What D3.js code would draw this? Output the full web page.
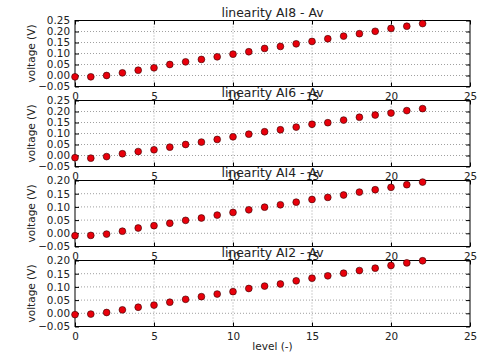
<!DOCTYPE html>
<html>
<head>
<meta charset="utf-8">
<script src="https://cdn.jsdelivr.net/npm/d3@7"></script>
<style>
body { margin: 0; background: #fff; }
text { font-family: "DejaVu Sans", sans-serif; fill: #222; }
</style>
</head>
<body>
<script>
var w = 480;
var h = 359;

// data
var levels = [0,1,2,3,4,5,6,7,8,9,10,11,12,13,14,15,16,17,18,19,20,21,22];
var titles = ["linearity AI8 - Av", "linearity AI6 - Av", "linearity AI4 - Av", "linearity AI2 - Av"];
var ai8 = [-0.006,-0.006,0.0,0.012,0.024,0.035,0.05,0.062,0.073,0.085,0.097,0.108,0.123,0.132,0.144,0.155,0.167,0.179,0.19,0.201,0.214,0.224,0.236];
var ai6 = [-0.010,-0.012,-0.005,0.008,0.018,0.026,0.038,0.05,0.061,0.073,0.085,0.097,0.108,0.117,0.129,0.142,0.149,0.161,0.174,0.184,0.193,0.204,0.213];
var ai4 = [-0.009,-0.008,-0.003,0.008,0.02,0.029,0.038,0.049,0.058,0.069,0.079,0.089,0.099,0.108,0.118,0.128,0.136,0.145,0.156,0.165,0.174,0.184,0.194];
var ai2 = [-0.005,-0.003,0.003,0.013,0.023,0.031,0.042,0.053,0.063,0.073,0.082,0.094,0.103,0.111,0.123,0.133,0.142,0.152,0.162,0.171,0.181,0.191,0.199];
var xTicks = [0,5,10,15,20,25];
var yTicksA = [-0.05,0,0.05,0.10,0.15,0.20,0.25];
var yTicksB = [-0.05,0,0.05,0.10,0.15,0.20];

var panels = [
    {title: titles[0], values: ai8, yTicks: yTicksA},
    {title: titles[1], values: ai6, yTicks: yTicksA},
    {title: titles[2], values: ai4, yTicks: yTicksB},
    {title: titles[3], values: ai2, yTicks: yTicksB}
];

var left = 75, right = 470;
var top0 = 20.5, ph = 66, step = 80;

var svg = d3.select("body")
    .append("svg")
    .attr("width", w)
    .attr("height", h);

var x = d3.scaleLinear()
    .domain([0, 25])
    .range([left, right]);

panels.forEach(function (p, i) {
    var t = top0 + i * step;
    var b = t + ph;
    var y = d3.scaleLinear()
        .domain([p.yTicks[0], p.yTicks[p.yTicks.length - 1]])
        .range([b, t]);

    var g = svg.append("g");

    // grid
    g.selectAll(".gx")
        .data(xTicks.slice(1, -1))
        .enter()
        .append("line")
        .attr("x1", function (d) { return x(d); })
        .attr("x2", function (d) { return x(d); })
        .attr("y1", t)
        .attr("y2", b)
        .style("stroke", "#888")
        .style("stroke-width", 0.8)
        .style("stroke-dasharray", "1,2");
    g.selectAll(".gy")
        .data(p.yTicks.slice(1, -1))
        .enter()
        .append("line")
        .attr("x1", left)
        .attr("x2", right)
        .attr("y1", function (d) { return y(d); })
        .attr("y2", function (d) { return y(d); })
        .style("stroke", "#888")
        .style("stroke-width", 0.8)
        .style("stroke-dasharray", "1,2");

    // axes (inward ticks on all sides)
    var fmtY = d3.format(".2f");
    var axL = g.append("g")
        .attr("transform", "translate(" + left + ",0)")
        .call(d3.axisLeft(y).tickValues(p.yTicks).tickSize(-4).tickPadding(5)
            .tickFormat(function (d) { return fmtY(d).replace("-", "\u2212"); }));
    var axR = g.append("g")
        .attr("transform", "translate(" + right + ",0)")
        .call(d3.axisRight(y).tickValues(p.yTicks).tickSize(-4).tickFormat(""));
    var axB = g.append("g")
        .attr("transform", "translate(0," + b + ")")
        .call(d3.axisBottom(x).tickValues(xTicks).tickSize(-4).tickPadding(6));
    var axT = g.append("g")
        .attr("transform", "translate(0," + t + ")")
        .call(d3.axisTop(x).tickValues(xTicks).tickSize(-4).tickFormat(""));
    [axL, axR, axB, axT].forEach(function (a) {
        a.select(".domain").remove();
        a.selectAll("text")
            .style("font-size", "10.4px")
            .style("font-family", "DejaVu Sans")
            .style("fill", "#222");
        a.selectAll("line").style("stroke", "#000");
    });

    g.append("rect")
        .attr("x", left)
        .attr("y", t)
        .attr("width", right - left)
        .attr("height", ph)
        .style("fill", "none")
        .style("stroke", "#000")
        .style("stroke-width", 1);

    // points
    g.selectAll("circle")
        .data(p.values)
        .enter()
        .append("circle")
        .attr("cx", function (d, j) { return x(levels[j]); })
        .attr("cy", function (d) { return y(d); })
        .attr("r", 3.4)
        .style("fill", "#e8000b")
        .style("stroke", "#300")
        .style("stroke-width", 0.6);

    // title
    g.append("text")
        .attr("x", (left + right) / 2)
        .attr("y", t - 4)
        .attr("text-anchor", "middle")
        .style("font-size", "12.4px")
        .text(p.title);

    // y label
    g.append("text")
        .attr("transform", "translate(35," + (t + ph / 2) + ") rotate(-90)")
        .attr("text-anchor", "middle")
        .style("font-size", "10.5px")
        .text("voltage (V)");
});

svg.append("text")
    .attr("x", (left + right) / 2)
    .attr("y", 350)
    .attr("text-anchor", "middle")
    .style("font-size", "10.5px")
    .text("level (-)");
</script>
</body>
</html>
